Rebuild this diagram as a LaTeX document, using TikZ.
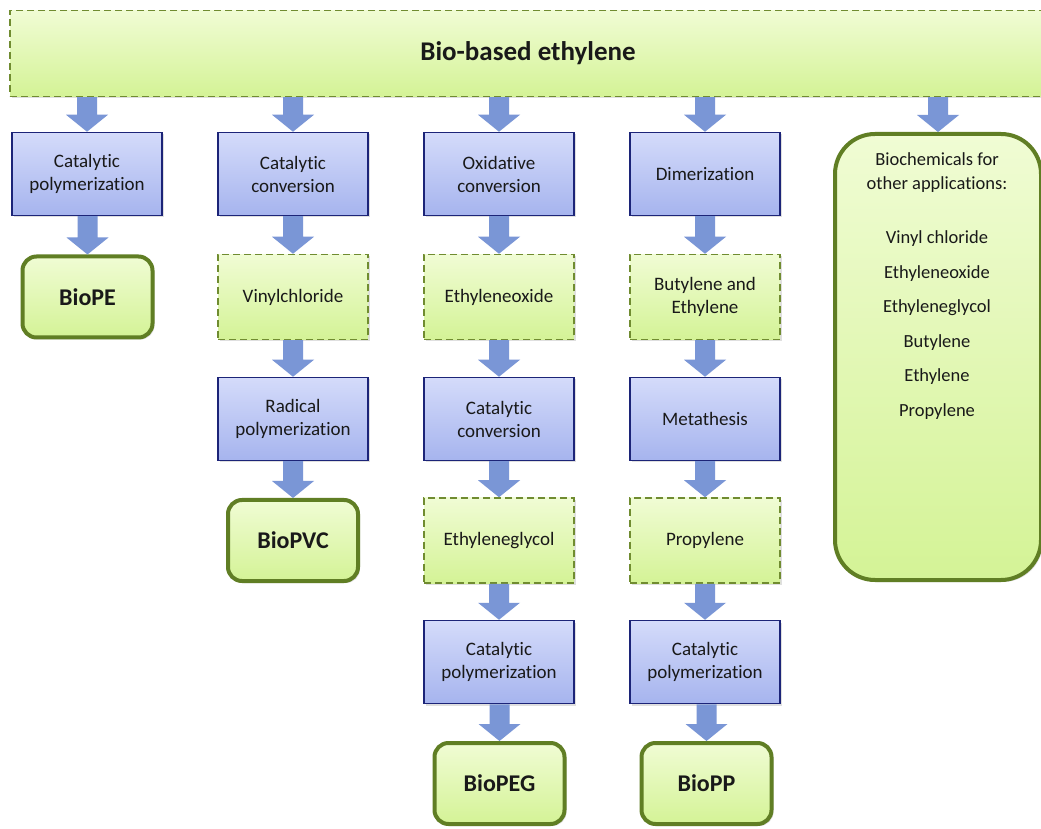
\documentclass[tikz,border=0pt]{standalone}
\usepackage{fontspec}
\setmainfont{Carlito}[Ligatures=NoCommon]
\usetikzlibrary{calc,shadows}
\definecolor{bluetop}{RGB}{212,219,250}
\definecolor{bluebot}{RGB}{166,180,238}
\definecolor{bluedraw}{RGB}{28,36,120}
\definecolor{greentop}{RGB}{240,252,212}
\definecolor{greenbot}{RGB}{212,243,150}
\definecolor{greendash}{RGB}{112,140,48}
\definecolor{greenthick}{RGB}{96,126,36}
\definecolor{arrowcol}{RGB}{122,150,214}
\definecolor{txt}{RGB}{25,25,25}
\tikzset{
  shad/.style={drop shadow={opacity=0.25,shadow xshift=2pt,shadow yshift=-2pt}},
  proc/.style={shad,draw=bluedraw,line width=1.5pt,top color=bluetop,bottom color=bluebot,
    minimum width=150pt,minimum height=83pt,inner sep=0pt,align=center,text=txt,
    font=\fontsize{19}{23}\selectfont},
  inter/.style={shad,draw=greendash,dash pattern=on 7pt off 4pt,line width=1.5pt,
    top color=greentop,bottom color=greenbot,minimum width=150pt,minimum height=85pt,
    inner sep=0pt,align=center,text=txt,font=\fontsize{19}{23}\selectfont},
  prod/.style={shad,draw=greenthick,line width=4pt,rounded corners=14pt,top color=greentop,
    bottom color=greenbot,minimum width=130pt,minimum height=81pt,inner sep=0pt,
    align=center,text=txt,font=\bfseries\fontsize{24}{28}\selectfont},
  fat/.style={fill=arrowcol}
}
\newcommand\fatarrow[2]{%
  \fill[fat] let \p1=(#1.south -| #2.north), \p2=(#2.north) in
    (\x2-10pt,\y1) -- (\x2+10pt,\y1) -- (\x2+10pt,\y2+17pt) -- (\x2+21pt,\y2+17pt)
    -- (\x2,\y2) -- (\x2-21pt,\y2+17pt) -- (\x2-10pt,\y2+17pt) -- cycle;}
\begin{document}
\begin{tikzpicture}[x=1pt,y=1pt]
\useasboundingbox (0,0) rectangle (1041,828);
\fill[white] (0,0) rectangle (1041,828);
% top bar
\node[inter,minimum width=1036pt,minimum height=86pt,font=\bfseries\fontsize{27}{31}\selectfont]
  (bar) at (528,774.5) {Bio-based ethylene};
% column 1
\node[proc] (cp1) at (87,654) {Catalytic\\polymerization};
\node[prod] (pe) at (87.5,531) {BioPE};
% column 2
\node[proc] (cc2) at (293,654) {Catalytic\\conversion};
\node[inter] (vc) at (293,531) {Vinylchloride};
\node[proc] (rp) at (293,409) {Radical\\polymerization};
\node[prod] (pvc) at (293,287.5) {BioPVC};
% column 3
\node[proc] (oc) at (499,654) {Oxidative\\conversion};
\node[inter] (eo) at (499,531) {Ethyleneoxide};
\node[proc] (cc3) at (499,409) {Catalytic\\conversion};
\node[inter] (eg) at (499,287.5) {Ethyleneglycol};
\node[proc] (cp3) at (499,166) {Catalytic\\polymerization};
\node[prod] (peg) at (499.5,44.5) {BioPEG};
% column 4
\node[proc] (dim) at (705,654) {Dimerization};
\node[inter] (be) at (705,531) {Butylene and\\Ethylene};
\node[proc] (met) at (705,409) {Metathesis};
\node[inter] (pr) at (705,287.5) {Propylene};
\node[proc] (cp4) at (705,166) {Catalytic\\polymerization};
\node[prod] (pp) at (706.5,44.5) {BioPP};
% column 5
\node[prod,rounded corners=40pt,minimum width=206pt,minimum height=446pt] (other) at (938,471) {};
\node[anchor=north,inner sep=0pt,align=center,text=txt,font=\fontsize{18.5}{24.5}\selectfont]
  (othertxt) at ($(other.north)+(-1pt,-20pt)$)
  {Biochemicals for\\other applications:\\[29.5pt]Vinyl chloride\\[10pt]Ethyleneoxide\\[10pt]Ethyleneglycol\\[10pt]Butylene\\[10pt]Ethylene\\[10pt]Propylene};
% arrows
\fatarrow{bar}{cp1}
\fatarrow{cp1}{pe}
\fatarrow{bar}{cc2}
\fatarrow{cc2}{vc}
\fatarrow{vc}{rp}
\fatarrow{rp}{pvc}
\fatarrow{bar}{oc}
\fatarrow{oc}{eo}
\fatarrow{eo}{cc3}
\fatarrow{cc3}{eg}
\fatarrow{eg}{cp3}
\fatarrow{cp3}{peg}
\fatarrow{bar}{dim}
\fatarrow{dim}{be}
\fatarrow{be}{met}
\fatarrow{met}{pr}
\fatarrow{pr}{cp4}
\fatarrow{cp4}{pp}
\fatarrow{bar}{other}
\end{tikzpicture}
\end{document}
